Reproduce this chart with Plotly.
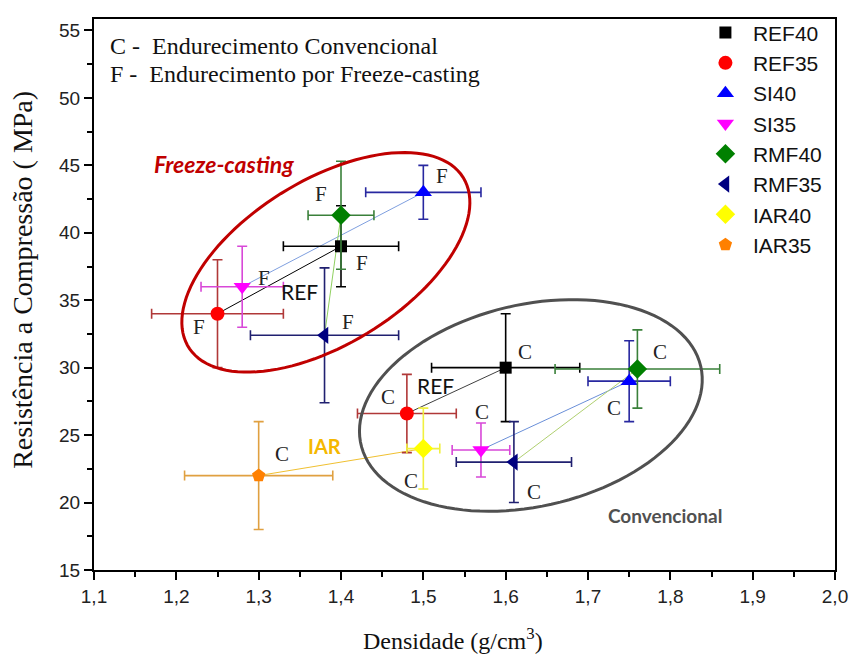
import numpy as np
import plotly.graph_objects as go

# ---------------- data ----------------
series = ["REF40", "REF35", "SI40", "SI35", "RMF40", "RMF35", "IAR40", "IAR35"]
symbols = ["square", "circle", "triangle-up", "triangle-down", "diamond", "triangle-left", "diamond", "pentagon"]
colors = ["#000000", "#FF0000", "#0000FF", "#FF00FF", "#008000", "#000080", "#FFFF00", "#FF8000"]
err_colors = ["#000000", "#B03838", "#2828A0", "#D848D8", "#3A803A", "#202070", "#F0F040", "#E0A040"]

# Freeze-casting (F) points: density, strength, +/- density, +/- strength
f_density = [1.40, 1.25, 1.50, 1.28, 1.40, 1.38, None, None]
f_strength = [39.0, 34.0, 43.0, 36.0, 41.3, 32.4, None, None]
f_err_x = [0.07, 0.08, 0.07, 0.05, 0.04, 0.09, None, None]
f_err_y = [3.0, 4.0, 2.0, 3.0, 4.0, 5.0, None, None]

# Conventional (C) points
c_density = [1.60, 1.48, 1.75, 1.57, 1.76, 1.61, 1.50, 1.30]
c_strength = [30.0, 26.6, 29.0, 23.9, 29.9, 23.0, 24.0, 22.0]
c_err_x = [0.09, 0.06, 0.05, 0.035, 0.10, 0.07, 0.02, 0.09]
c_err_y = [4.0, 2.9, 3.0, 2.0, 2.9, 3.0, 3.0, 4.0]

# connecting lines (35 -> 40) : (series a, series b, group, colour)
links = [
    ("REF35", "REF40", "F", "#000000"),
    ("SI35", "SI40", "F", "#7F9FDF"),
    ("RMF35", "RMF40", "F", "#90D060"),
    ("REF35", "REF40", "C", "#404040"),
    ("SI35", "SI40", "C", "#6A8FD8"),
    ("RMF35", "RMF40", "C", "#B0D070"),
    ("IAR35", "IAR40", "C", "#F0C030"),
]

x_range = [1.1, 2.0]
y_range = [15, 55.85]

fig = go.Figure()

def pt(name, grp):
    i = series.index(name)
    if grp == "F":
        return f_density[i], f_strength[i]
    return c_density[i], c_strength[i]

for a, b, grp, col in links:
    xa, ya = pt(a, grp)
    xb, yb = pt(b, grp)
    fig.add_trace(go.Scatter(x=[xa, xb], y=[ya, yb], mode="lines",
                             line=dict(color=col, width=1), showlegend=False,
                             hoverinfo="skip"))

sizes = {"square": 12, "circle": 14, "triangle-up": 15, "triangle-down": 15,
         "diamond": 15, "triangle-left": 15, "pentagon": 14}
for i, name in enumerate(series):
    xs, ys, exs, eys = [], [], [], []
    if f_density[i] is not None:
        xs.append(f_density[i]); ys.append(f_strength[i])
        exs.append(f_err_x[i]); eys.append(f_err_y[i])
    xs.append(c_density[i]); ys.append(c_strength[i])
    exs.append(c_err_x[i]); eys.append(c_err_y[i])
    fig.add_trace(go.Scatter(
        x=xs, y=ys, mode="markers", name=name,
        marker=dict(symbol=symbols[i], color=colors[i], size=sizes[symbols[i]], line=dict(width=0)),
        error_x=dict(type="data", array=exs, visible=True, color=err_colors[i], thickness=1.6, width=5),
        error_y=dict(type="data", array=eys, visible=True, color=err_colors[i], thickness=1.6, width=5),
    ))

# ---------------- ellipses ----------------
PLOT_W, PLOT_H = 748, 557
sx = (x_range[1] - x_range[0]) / PLOT_W
sy = (y_range[1] - y_range[0]) / PLOT_H

def ellipse_path(cx, cy, a, b, theta_deg, n=120):
    th = np.radians(theta_deg)
    t = np.linspace(0, 2 * np.pi, n)
    u = a * np.cos(t) * np.cos(th) - b * np.sin(t) * np.sin(th)
    v = a * np.cos(t) * np.sin(th) + b * np.sin(t) * np.cos(th)
    xs = cx + u * sx
    ys = cy + v * sy
    p = "M %f,%f " % (xs[0], ys[0])
    p += " ".join("L %f,%f" % (x, y) for x, y in zip(xs[1:], ys[1:]))
    return p + " Z"

fig.add_shape(type="path", path=ellipse_path(1.3816, 37.81, 163, 83, 31.7),
              xref="x", yref="y", line=dict(color="#C00000", width=3))
fig.add_shape(type="path", path=ellipse_path(1.6306, 27.20, 176, 102, 13),
              xref="x", yref="y", line=dict(color="#505050", width=3))

# ---------------- annotations ----------------
serif = "Liberation Serif"
sans = "Lato"
f_labels = [(1.425, 37.75), (1.376, 42.9), (1.523, 44.2), (1.306, 36.65), (1.228, 33.0), (1.408, 33.35)]
c_labels = [(1.624, 31.15), (1.787, 31.15), (1.731, 26.99), (1.457, 27.84), (1.571, 26.74),
            (1.485, 21.6), (1.635, 20.75), (1.328, 23.57)]
for x, y in f_labels:
    fig.add_annotation(x=x, y=y, text="F", showarrow=False,
                       font=dict(family=serif, size=21, color="#222222"))
for x, y in c_labels:
    fig.add_annotation(x=x, y=y, text="C", showarrow=False,
                       font=dict(family=serif, size=21, color="#222222"))

fig.add_annotation(x=1.350, y=35.67, text="REF", showarrow=False,
                   font=dict(family=sans, size=21, color="#111111"))
fig.add_annotation(x=1.515, y=28.7, text="REF", showarrow=False,
                   font=dict(family=sans, size=21, color="#111111"))
fig.add_annotation(x=1.3805, y=24.17, text="<b>IAR</b>", showarrow=False,
                   font=dict(family=sans, size=20, color="#F5B800"))
fig.add_annotation(x=1.258, y=45.09, text="<b><i>Freeze-casting</i></b>", showarrow=False,
                   font=dict(family=sans, size=23, color="#C00000"))
fig.add_annotation(x=1.794, y=19.04, text="<b>Convencional</b>", showarrow=False,
                   font=dict(family=sans, size=19, color="#505050"))

fig.add_annotation(xref="paper", yref="paper", x=0.0187, y=0.9515, xanchor="left", yanchor="middle",
                   text="C -  Endurecimento Convencional", showarrow=False,
                   font=dict(family=serif, size=24, color="#111111"))
fig.add_annotation(xref="paper", yref="paper", x=0.0187, y=0.901, xanchor="left", yanchor="middle",
                   text="F -  Endurecimento por Freeze-casting", showarrow=False,
                   font=dict(family=serif, size=24, color="#111111"))

# axis titles (placed as in the reference)
fig.add_annotation(xref="paper", yref="paper", x=0.484, y=-0.1257, xanchor="center", yanchor="middle",
                   text="Densidade (g/cm<sup>3</sup>)", showarrow=False,
                   font=dict(family=serif, size=24, color="#111111"))
fig.add_annotation(xref="paper", yref="paper", x=-0.0963, y=0.526, xanchor="center", yanchor="middle",
                   text="Resistência a Compressão ( MPa)", showarrow=False, textangle=-90,
                   font=dict(family=serif, size=28, color="#111111"))

# ---------------- layout ----------------
fig.update_layout(
    width=860, height=661,
    margin=dict(l=94, r=18, t=13, b=91),
    paper_bgcolor="white", plot_bgcolor="white",
    separators=",.",
    showlegend=True,
    legend=dict(x=0.815, y=1.012, xanchor="left", yanchor="top", itemwidth=45,
                bgcolor="rgba(0,0,0,0)", font=dict(family="Liberation Sans", size=21, color="#111111"),
                itemsizing="trace"),
    xaxis=dict(range=x_range, dtick=0.1, tick0=1.1, tickformat=".1f",
               showline=True, linecolor="black", linewidth=2, mirror=True,
               ticks="outside", ticklen=8, tickwidth=2, tickcolor="black",
               minor=dict(dtick=0.05, ticks="outside", ticklen=5, tickwidth=2, tickcolor="black"),
               showgrid=False, zeroline=False,
               tickfont=dict(family="Liberation Sans", size=19, color="#222222")),
    yaxis=dict(range=y_range, dtick=5, tick0=15,
               showline=True, linecolor="black", linewidth=2, mirror=True,
               ticks="outside", ticklen=8, tickwidth=2, tickcolor="black",
               minor=dict(dtick=2.5, ticks="outside", ticklen=5, tickwidth=2, tickcolor="black"),
               showgrid=False, zeroline=False,
               tickfont=dict(family="Liberation Sans", size=19, color="#222222")),
)

fig.write_html("out.html")
